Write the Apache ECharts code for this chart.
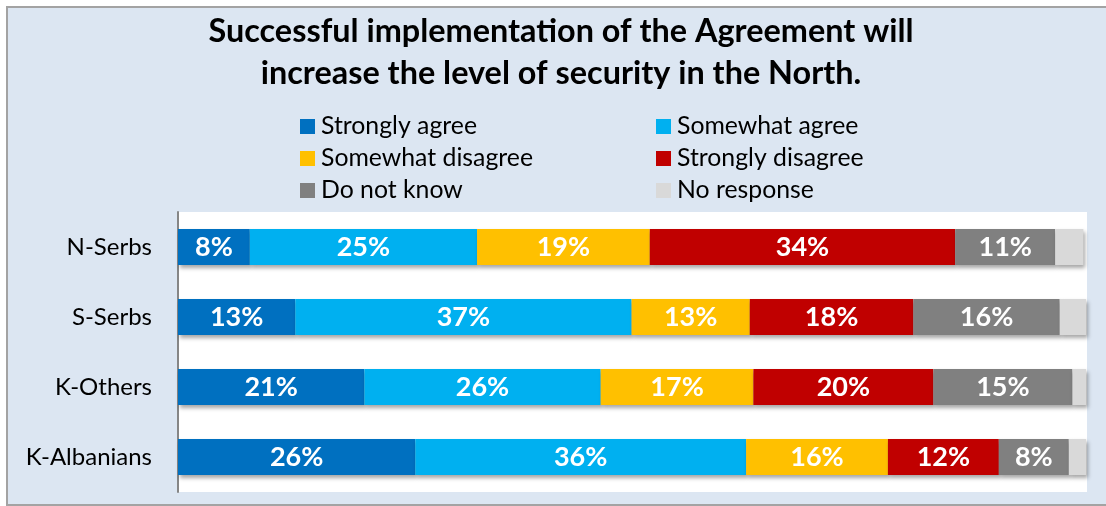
<!DOCTYPE html>
<html>
<head>
<meta charset="utf-8">
<script src="https://cdn.jsdelivr.net/npm/echarts@6/dist/echarts.min.js"></script>
<style>
  html, body { margin: 0; padding: 0; background: #ffffff; }
  #frame { position: absolute; left: 6px; top: 6px; width: 1110px; height: 496px;
           background: #dce6f2; border: 2px solid #a3a3a3; }
  #chart { position: absolute; left: 0; top: 0; width: 1106px; height: 506px; }
</style>
</head>
<body>
<div id="frame"></div>
<div id="chart"></div>
<script>
const categories = ['N-Serbs', 'S-Serbs', 'K-Others', 'K-Albanians'];
const seriesNames = ['Strongly agree', 'Somewhat agree', 'Somewhat disagree', 'Strongly disagree', 'Do not know', 'No response'];
const stronglyAgree    = [7.9, 12.9, 20.5, 26.1];
const somewhatAgree    = [25.0, 37.0, 26.0, 36.4];
const somewhatDisagree = [19.0, 13.0, 16.8, 15.6];
const stronglyDisagree = [33.6, 18.0, 19.8, 12.2];
const doNotKnow        = [11.0, 16.1, 15.3, 7.7];
const noResponse       = [3.1, 2.9, 1.5, 1.9];
const colors = ['#0070c0', '#00b0f0', '#ffc000', '#c00000', '#808080', '#d9d9d9'];

const allData = [stronglyAgree, somewhatAgree, somewhatDisagree, stronglyDisagree, doNotKnow, noResponse];
const FONT = 'Lato';

const chart = echarts.init(document.getElementById('chart'));
const series = allData.map((d, i) => ({
  name: seriesNames[i],
  type: 'bar',
  stack: 'total',
  barWidth: 36,
  data: d,
  itemStyle: {
    color: colors[i],
    shadowColor: 'rgba(0,0,0,0.35)',
    shadowBlur: 4,
    shadowOffsetX: 2,
    shadowOffsetY: 3
  },
  label: {
    show: i < 5,
    position: 'inside',
    color: '#ffffff',
    fontFamily: FONT,
    fontWeight: 'bold',
    fontSize: 27,
    formatter: p => Math.round(p.value) + '%'
  },
  emphasis: { disabled: true }
}));

const legendCommon = {
  orient: 'vertical', top: 114, padding: 0,
  icon: 'rect', itemWidth: 15, itemHeight: 15, itemGap: 7,
  textStyle: { fontFamily: FONT, fontSize: 24.8, lineHeight: 24, color: '#000000', padding: [0, 0, 0, 1] },
  selectedMode: false
};

chart.setOption({
  animation: false,
  backgroundColor: 'transparent',
  title: {
    text: 'Successful implementation of the Agreement will\nincrease the level of security in the North.',
    left: 561,
    top: 11,
    padding: 0,
    textAlign: 'center',
    textStyle: { fontFamily: FONT, fontWeight: 'bold', fontSize: 32.4, lineHeight: 42, color: '#000000' }
  },
  legend: [
    Object.assign({}, legendCommon, { data: [seriesNames[0], seriesNames[2], seriesNames[4]], left: 300 }),
    Object.assign({}, legendCommon, { data: [seriesNames[1], seriesNames[3], seriesNames[5]], left: 656 })
  ],
  grid: {
    left: 178, right: 19, top: 212, bottom: 14,
    show: true, backgroundColor: '#ffffff', borderWidth: 0,
    containLabel: false
  },
  xAxis: {
    type: 'value', min: 0, max: 100,
    show: false
  },
  yAxis: {
    type: 'category',
    data: categories,
    inverse: true,
    axisLine: { show: true, lineStyle: { color: '#868686', width: 2 } },
    axisTick: { show: false },
    axisLabel: { fontFamily: FONT, fontSize: 24, color: '#000000', margin: 26 }
  },
  series: series
});
</script>
</body>
</html>
